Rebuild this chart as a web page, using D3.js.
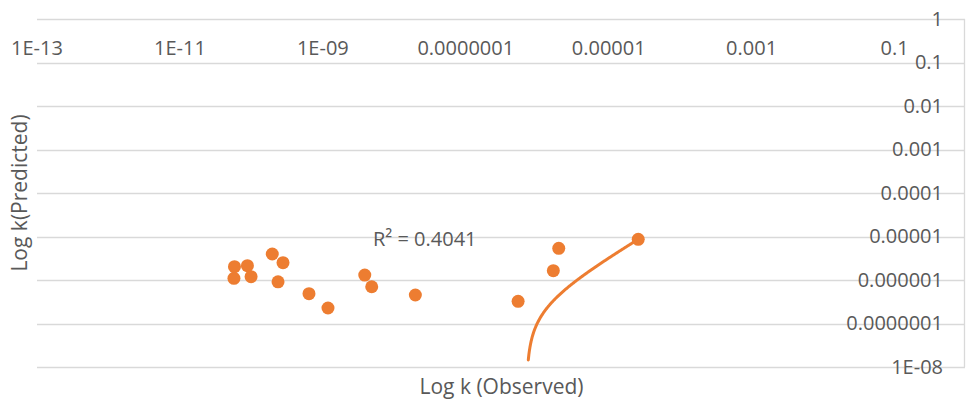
<!DOCTYPE html>
<html>
<head>
<meta charset="utf-8">
<script src="https://cdnjs.cloudflare.com/ajax/libs/d3/7.8.5/d3.min.js"></script>
<style>
  html, body { margin: 0; padding: 0; background: #fff; }
  svg { display: block; font-family: "Open Sans", sans-serif; }
</style>
</head>
<body>
<script>
// chart size
var width = 966,
    height = 399;

// observed vs predicted rate constants
var observed = [5.8e-11, 8.8e-11, 5.7e-11, 9.9e-11, 1.96e-10, 2.77e-10, 2.36e-10, 6.4e-10,
                1.18e-9, 3.86e-9, 4.83e-9, 1.97e-8, 5.4e-7, 1.68e-6, 2.0e-6, 2.59e-5];
var predicted = [2.02e-6, 2.13e-6, 1.09e-6, 1.19e-6, 3.96e-6, 2.5e-6, 9.1e-7, 4.84e-7,
                 2.27e-7, 1.3e-6, 7.0e-7, 4.52e-7, 3.24e-7, 1.64e-6, 5.36e-6, 8.63e-6];

// axis ticks
var xTicks = [1e-13, 1e-11, 1e-9, 1e-7, 1e-5, 1e-3, 0.1];
var xTickLabels = ["1E-13", "1E-11", "1E-09", "0.0000001", "0.00001", "0.001", "0.1"];
var yTicks = [1, 0.1, 0.01, 0.001, 0.0001, 0.00001, 0.000001, 0.0000001, 1e-8];
var yTickLabels = ["1", "0.1", "0.01", "0.001", "0.0001", "0.00001", "0.000001", "0.0000001", "1E-08"];

// linear trendline (y = slope * x + intercept) as shown on the chart
var trendSlope = 0.3426,
    trendIntercept = -2.424e-7,
    trendFrom = 7.5e-7;
var rSquared = "R\u00B2 = 0.4041";

var gridColor = "#d9d9d9",
    textColor = "#595959",
    orange = "#ed7d31";

var svg = d3.select("body")
            .append("svg")
            .attr("width", width)
            .attr("height", height);

var x = d3.scaleLog()
    .domain([1e-13, 1])
    .range([37, 966]);

var y = d3.scaleLog()
    .domain([1e-8, 1])
    .range([367, 19]);

// horizontal gridlines
svg.append("g")
  .selectAll("line")
  .data(yTicks)
  .enter().append("line")
    .attr("x1", x.range()[0])
    .attr("x2", x.range()[1] - 1)
    .attr("y1", function(d) { return Math.round(y(d)) + 0.5; })
    .attr("y2", function(d) { return Math.round(y(d)) + 0.5; })
    .attr("stroke", gridColor)
    .attr("stroke-width", 1.3);

// value axis line on the right
svg.append("line")
    .attr("x1", x.range()[1] - 1.5)
    .attr("x2", x.range()[1] - 1.5)
    .attr("y1", y.range()[1])
    .attr("y2", y.range()[0])
    .attr("stroke", gridColor)
    .attr("stroke-width", 1.3);

// y tick labels (right side)
svg.append("g")
  .selectAll("text")
  .data(yTicks)
  .enter().append("text")
    .attr("x", 943)
    .attr("y", function(d) { return y(d); })
    .attr("dy", "0.33em")
    .attr("text-anchor", "end")
    .attr("fill", textColor)
    .attr("font-size", 20)
    .text(function(d, i) { return yTickLabels[i]; });

// x tick labels (top)
svg.append("g")
  .selectAll("text")
  .data(xTicks)
  .enter().append("text")
    .attr("x", function(d) { return x(d); })
    .attr("y", 55)
    .attr("text-anchor", "middle")
    .attr("fill", textColor)
    .attr("font-size", 20)
    .text(function(d, i) { return xTickLabels[i]; });

// trendline
var trendPts = d3.range(0, 201).map(function(i) {
    var lo = Math.log10(trendFrom), hi = Math.log10(d3.max(observed));
    var xv = Math.pow(10, lo + (hi - lo) * i / 200);
    return [xv, trendSlope * xv + trendIntercept];
}).filter(function(p) { return p[1] > 0; });

svg.append("path")
    .datum(trendPts)
    .attr("fill", "none")
    .attr("stroke", orange)
    .attr("stroke-width", 3)
    .attr("stroke-linecap", "round")
    .attr("d", d3.line()
        .x(function(p) { return x(p[0]); })
        .y(function(p) { return y(p[1]); }));

// points
svg.append("g")
  .selectAll("circle")
  .data(observed)
  .enter().append("circle")
    .attr("cx", function(d) { return x(d); })
    .attr("cy", function(d, i) { return y(predicted[i]); })
    .attr("r", 6.5)
    .attr("fill", orange);

// R squared label
svg.append("text")
    .attr("x", 373)
    .attr("y", 246)
    .attr("fill", textColor)
    .attr("font-size", 20)
    .text(rSquared);

// axis titles
svg.append("text")
    .attr("x", (x.range()[0] + x.range()[1]) / 2)
    .attr("y", 394)
    .attr("text-anchor", "middle")
    .attr("fill", textColor)
    .attr("font-size", 21)
    .text("Log k (Observed)");

svg.append("text")
    .attr("transform", "translate(27," + (y.range()[0] + y.range()[1]) / 2 + ") rotate(-90)")
    .attr("text-anchor", "middle")
    .attr("fill", textColor)
    .attr("font-size", 21)
    .text("Log k(Predicted)");
</script>
</body>
</html>
